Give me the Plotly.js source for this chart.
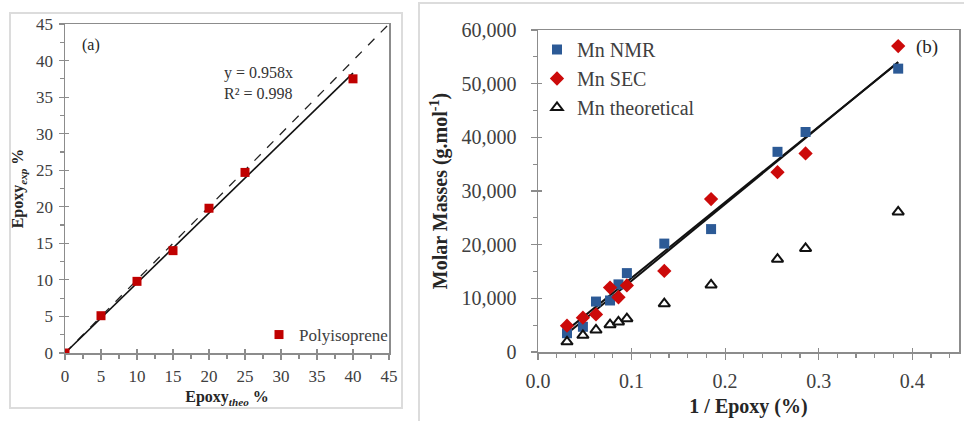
<!DOCTYPE html>
<html>
<head>
<meta charset="utf-8">
<script src="https://cdn.plot.ly/plotly-3.0.1.min.js"></script>
<style>html,body{margin:0;padding:0;background:#fff;}#chart{width:964px;height:421px;}</style>
</head>
<body>
<div id="chart"></div>
<script>
// ---- Panel (a) data ----
const epoxyTheo = [0, 5, 10, 15, 20, 25, 40];
const epoxyExp  = [0, 5.1, 9.8, 14, 19.8, 24.7, 37.5];
const rangeA = [0, 45];

// ---- Panel (b) data ----
const invEpoxy = [0.031, 0.048, 0.062, 0.077, 0.086, 0.095, 0.135, 0.185, 0.256, 0.286, 0.385];
const mnNMR    = [3500, 4700, 9400, 9600, 12600, 14700, 20200, 22900, 37300, 41000, 52800];
const mnSEC    = [4900, 6400, 7000, 12000, 10200, 12400, 15100, 28500, 33500, 37000, 57000];
const mnTheo   = [1900, 3100, 4100, 5100, 5600, 6200, 9000, 12500, 17300, 19300, 26100];

// least squares helpers
function fitOrigin(x, y){ let sxy=0,sxx=0; for(let i=0;i<x.length;i++){sxy+=x[i]*y[i];sxx+=x[i]*x[i];} return sxy/sxx; }
function fitLinear(x, y){ const n=x.length; const mx=x.reduce((a,b)=>a+b,0)/n, my=y.reduce((a,b)=>a+b,0)/n;
  let sxy=0,sxx=0; for(let i=0;i<n;i++){sxy+=(x[i]-mx)*(y[i]-my); sxx+=(x[i]-mx)*(x[i]-mx);} const m=sxy/sxx; return [m, my-m*mx]; }

const kA = fitOrigin(epoxyTheo, epoxyExp);
const xFitA = [Math.min(...epoxyTheo), Math.max(...epoxyTheo)];
const [mN, bN] = fitLinear(invEpoxy, mnNMR);
const [mS, bS] = fitLinear(invEpoxy, mnSEC);
const xFitB = [Math.min(...invEpoxy), Math.max(...invEpoxy)];

const FONT = 'Liberation Serif';
const RED = '#c00000', BLUE = '#2c5a96', AX = '#8c8c8c', TXT = '#404040';

const traces = [
  {x: rangeA, y: rangeA, mode:'lines', line:{color:'#222', width:1.3, dash:'dash'}, showlegend:false, hoverinfo:'skip', xaxis:'x', yaxis:'y'},
  {x: xFitA, y: xFitA.map(v=>kA*v), mode:'lines', line:{color:'#111', width:1.6}, showlegend:false, hoverinfo:'skip', xaxis:'x', yaxis:'y'},
  {x: epoxyTheo, y: epoxyExp, mode:'markers', name:'Polyisoprene', marker:{symbol:'square', size:9, color:RED}, xaxis:'x', yaxis:'y', legend:'legend'},

  {x: xFitB, y: xFitB.map(v=>mN*v+bN), mode:'lines', line:{color:'#111', width:2}, showlegend:false, hoverinfo:'skip', xaxis:'x2', yaxis:'y2'},
  {x: xFitB, y: xFitB.map(v=>mS*v+bS), mode:'lines', line:{color:'#111', width:2}, showlegend:false, hoverinfo:'skip', xaxis:'x2', yaxis:'y2'},
  {x: invEpoxy, y: mnNMR, mode:'markers', name:'Mn NMR', legendgroup:'a', marker:{symbol:'square', size:10, color:BLUE}, xaxis:'x2', yaxis:'y2', legend:'legend2'},
  {x: invEpoxy, y: mnSEC, mode:'markers', name:'Mn SEC', legendgroup:'b', marker:{symbol:'diamond', size:11, color:'#cc0a0a'}, xaxis:'x2', yaxis:'y2', legend:'legend2'},
  {x: invEpoxy, y: mnTheo, mode:'markers', name:'Mn theoretical', legendgroup:'c', marker:{symbol:'triangle-up-open', size:10, color:'#111', line:{width:2, color:'#111'}}, xaxis:'x2', yaxis:'y2', legend:'legend2'},

  // empty traces for inner tick overlay axes
  {x:[], y:[], xaxis:'x3', yaxis:'y', showlegend:false, hoverinfo:'skip'},
  {x:[], y:[], xaxis:'x', yaxis:'y3', showlegend:false, hoverinfo:'skip'},
  {x:[], y:[], xaxis:'x4', yaxis:'y2', showlegend:false, hoverinfo:'skip'},
  {x:[], y:[], xaxis:'x2', yaxis:'y4', showlegend:false, hoverinfo:'skip'}
];

const px = v => v/964, py = v => 1 - v/421;
const base = {showgrid:false, zeroline:false, showline:true, linecolor:AX, linewidth:1.5, ticks:'outside', tickcolor:AX, tickwidth:1.2, fixedrange:true};
const inner = {showgrid:false, zeroline:false, showline:false, showticklabels:false, ticks:'inside', tickcolor:AX, tickwidth:1.2, ticklen:4, fixedrange:true};

const layout = {
  width:964, height:421,
  margin:{l:0, r:0, t:0, b:0},
  paper_bgcolor:'#fff', plot_bgcolor:'rgba(0,0,0,0)',
  font:{family:FONT, color:TXT},
  xaxis: Object.assign({}, base, {domain:[px(65), px(389)], anchor:'y', range:rangeA, dtick:5, mirror:true, ticklen:5,
     minor:{dtick:2.5, ticks:'outside', ticklen:4, tickcolor:AX},
     tickfont:{size:17, color:TXT, family:FONT}, ticklabelstandoff:2,
     title:{text:'Epoxy<sub><i>theo</i></sub> %', font:{size:16, color:'#262626', family:FONT, weight:'bold'}, standoff:6}}),
  yaxis: Object.assign({}, base, {domain:[py(353), py(24)], anchor:'x', range:rangeA, dtick:5, mirror:true, ticklen:5,
     minor:{dtick:2.5, ticks:'outside', ticklen:4, tickcolor:AX},
     tickfont:{size:17, color:TXT, family:FONT}, ticklabelstandoff:2,
     title:{text:'Epoxy<sub><i>exp</i></sub> %', font:{size:16, color:'#262626', family:FONT, weight:'bold'}, standoff:8}}),
  xaxis3: Object.assign({}, inner, {overlaying:'x', anchor:'y', range:rangeA, dtick:5}),
  yaxis3: Object.assign({}, inner, {overlaying:'y', anchor:'x', range:rangeA, dtick:5}),

  xaxis2: Object.assign({}, base, {domain:[px(538), px(959)], anchor:'y2', range:[0,0.45], dtick:0.1, tickformat:'.1f', mirror:true, ticklen:6,
     minor:{dtick:0.02, ticks:'outside', ticklen:4, tickcolor:AX},
     tickfont:{size:20, color:TXT, family:FONT}, ticklabelstandoff:4,
     title:{text:'1 / Epoxy (%)', font:{size:20, color:'#262626', family:FONT, weight:'bold'}, standoff:8}}),
  yaxis2: Object.assign({}, base, {domain:[py(352), py(30)], anchor:'x2', range:[0,60000], dtick:10000, tickformat:',', mirror:true, ticklen:6,
     minor:{dtick:5000, ticks:'outside', ticklen:4, tickcolor:AX},
     tickfont:{size:20, color:TXT, family:FONT}, ticklabelstandoff:10,
     title:{text:'Molar Masses (g.mol<sup>-1</sup>)', font:{size:20, color:'#262626', family:FONT, weight:'bold'}, standoff:8}}),
  xaxis4: Object.assign({}, inner, {overlaying:'x2', anchor:'y2', range:[0,0.45], dtick:0.1}),
  yaxis4: Object.assign({}, inner, {overlaying:'y2', anchor:'x2', range:[0,60000], dtick:10000}),

  legend:{x:px(299-40), y:py(335), xanchor:'left', yanchor:'middle', bgcolor:'rgba(0,0,0,0)',
     font:{size:17, family:FONT, color:TXT}, itemwidth:30},
  legend2:{x:px(577-40), y:py(30), xanchor:'left', yanchor:'top', bgcolor:'rgba(0,0,0,0)', tracegroupgap:0,
     font:{size:20, family:FONT, color:TXT}, itemwidth:30},

  annotations:[
    {xref:'paper', yref:'paper', x:px(80), y:py(45), xanchor:'left', yanchor:'middle', text:'(a)', showarrow:false, font:{size:16, family:FONT, color:'#262626'}},
    {xref:'paper', yref:'paper', x:px(914), y:py(47), xanchor:'left', yanchor:'middle', text:'(b)', showarrow:false, font:{size:19, family:FONT, color:'#262626'}},
    {xref:'paper', yref:'paper', x:px(222), y:py(83), xanchor:'left', yanchor:'middle', align:'left', text:'y = 0.958x<br>R² = 0.998', showarrow:false, font:{size:16, family:FONT, color:'#333'}}
  ],
  shapes:[
    {type:'rect', xref:'paper', yref:'paper', x0:px(10), x1:px(402), y0:py(408), y1:py(13), line:{color:'#dcdcdc', width:2}, fillcolor:'rgba(0,0,0,0)', layer:'below'},
    {type:'rect', xref:'paper', yref:'paper', x0:px(419), x1:1.05, y0:-0.05, y1:py(3), line:{color:'#dcdcdc', width:2}, fillcolor:'rgba(0,0,0,0)', layer:'below'}
  ]
};

Plotly.newPlot('chart', traces, layout, {staticPlot:true, displayModeBar:false});
</script>
</body>
</html>
